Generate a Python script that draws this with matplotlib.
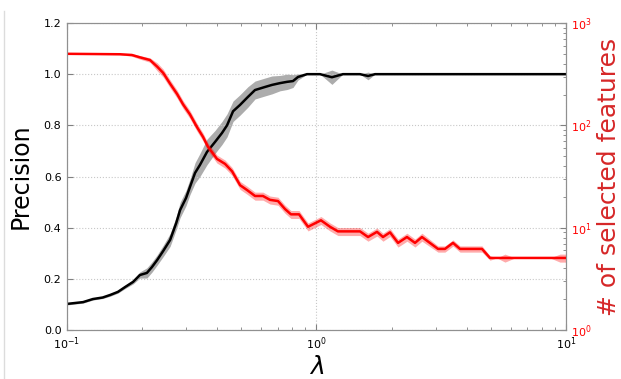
import numpy as np
import matplotlib
matplotlib.use('Agg')
import matplotlib.pyplot as plt
from matplotlib.lines import Line2D

# Precision vs lambda (mean and spread)
lam_prec = [0.100, 0.116, 0.127, 0.139, 0.149, 0.160, 0.171, 0.184, 0.196, 0.209,
            0.219, 0.230, 0.243, 0.259, 0.274, 0.284, 0.300, 0.311, 0.326, 0.341,
            0.364, 0.392, 0.418, 0.438, 0.463, 0.494, 0.531, 0.567, 0.622, 0.663,
            0.714, 0.762, 0.805, 0.843, 0.916, 1.033, 1.153, 1.276, 1.494, 1.609,
            1.716, 10.0]
prec_mean = [0.102, 0.109, 0.121, 0.127, 0.137, 0.149, 0.168, 0.188, 0.215, 0.223,
             0.246, 0.274, 0.309, 0.352, 0.418, 0.469, 0.516, 0.559, 0.614, 0.645,
             0.696, 0.735, 0.770, 0.800, 0.855, 0.880, 0.911, 0.938, 0.950, 0.958,
             0.965, 0.970, 0.973, 0.989, 1.000, 1.000, 0.988, 1.000, 1.000, 0.993,
             1.000, 1.000]
prec_sd = [0.004, 0.004, 0.004, 0.004, 0.005, 0.005, 0.006, 0.008, 0.012, 0.020,
           0.020, 0.020, 0.022, 0.025, 0.025, 0.030, 0.030, 0.030, 0.040, 0.045,
           0.050, 0.045, 0.045, 0.045, 0.040, 0.040, 0.040, 0.035, 0.035, 0.035,
           0.030, 0.030, 0.025, 0.012, 0.000, 0.000, 0.028, 0.000, 0.000, 0.015,
           0.000, 0.000]

# number of selected features vs lambda
lam_feat = [0.100, 0.163, 0.182, 0.196, 0.215, 0.230, 0.243, 0.259, 0.276, 0.292,
            0.311, 0.332, 0.351, 0.367, 0.399, 0.430, 0.459, 0.494, 0.527, 0.567,
            0.610, 0.651, 0.701, 0.748, 0.790, 0.851, 0.925, 1.042, 1.133, 1.219,
            1.494, 1.609, 1.748, 1.847, 1.971, 2.122, 2.305, 2.482, 2.647, 3.069,
            3.273, 3.525, 3.760, 4.606, 4.959, 5.288, 5.694, 6.246, 8.630, 9.460,
            10.0]
feat_mean = [500, 495, 487, 462, 435, 374, 325, 255, 203, 160,
             128, 96, 77, 62, 47, 42, 35.5, 26, 23.3, 20.4,
             20.4, 18.7, 18.2, 15.2, 13.5, 13.5, 10.2, 11.8, 10.2, 9.2,
             9.2, 8.1, 9.1, 8.1, 9.0, 7.1, 8.1, 7.1, 8.1, 6.2,
             6.2, 7.1, 6.2, 6.2, 5.06, 5.06, 5.06, 5.06, 5.06, 5.06,
             5.06]
feat_rel_sd = [0.01, 0.01, 0.03, 0.04, 0.05, 0.09, 0.09, 0.09, 0.09, 0.09,
               0.09, 0.09, 0.09, 0.09, 0.09, 0.09, 0.09, 0.09, 0.09, 0.09,
               0.09, 0.09, 0.09, 0.09, 0.09, 0.09, 0.09, 0.09, 0.09, 0.09,
               0.09, 0.09, 0.09, 0.09, 0.09, 0.09, 0.09, 0.09, 0.09, 0.07,
               0.07, 0.07, 0.07, 0.07, 0.05, 0.0, 0.09, 0.0, 0.0, 0.09,
               0.09]

plt.rcParams['xtick.direction'] = 'in'
plt.rcParams['ytick.direction'] = 'in'

fig = plt.figure(figsize=(6.21, 3.79), dpi=100)
ax = fig.add_axes([0.1079, 0.1293, 0.8035, 0.8100])

lp = np.array(lam_prec)
pm = np.array(prec_mean)
ps = np.array(prec_sd)
ax.fill_between(lp, pm - ps, pm + ps, color='#808080', alpha=0.65, linewidth=0)
ax.plot(lp, pm, color='black', linewidth=1.8)

ax.set_xscale('log')
ax.set_xlim(0.1, 10)
ax.set_ylim(0, 1.2)
ax.set_yticks([0.0, 0.2, 0.4, 0.6, 0.8, 1.0, 1.2])
ax.set_yticklabels(['0.0', '0.2', '0.4', '0.6', '0.8', '1.0', '1.2'])
ax.grid(True, which='major', color='#c8c8c8', linestyle=':', linewidth=0.8)
ax.set_ylabel('Precision', fontsize=17, labelpad=8)
ax.set_xlabel(r'$\lambda$', fontsize=18, labelpad=2)
ax.tick_params(axis='both', which='major', labelsize=8, length=4, color='#808080',
               top=True, pad=4)
ax.tick_params(axis='x', which='minor', length=2, color='#808080', top=True)
ax.tick_params(axis='y', right=False)

ax2 = ax.twinx()
lf = np.array(lam_feat)
fm = np.array(feat_mean)
fs = np.array(feat_rel_sd) * fm
ax2.fill_between(lf, fm - fs, fm + fs, color='red', alpha=0.33, linewidth=0)
ax2.plot(lf, fm, color='red', linewidth=1.8)
ax2.set_yscale('log')
ax2.set_ylim(1, 1000)
ax2.set_xlim(0.1, 10)
ax2.set_ylabel('# of selected features', fontsize=18, color='#d62728')
ax2.tick_params(axis='y', which='major', labelsize=8, labelcolor='red', length=4,
                color='#808080')
ax2.tick_params(axis='y', which='minor', length=2, color='#808080')

for a in (ax, ax2):
    for s in a.spines.values():
        s.set_color('#909090')

fig.add_artist(Line2D([0.007, 0.007], [0.0, 0.97], transform=fig.transFigure,
                      color='#dcdcdc', linewidth=1))

fig.savefig('out.png', dpi=100)
